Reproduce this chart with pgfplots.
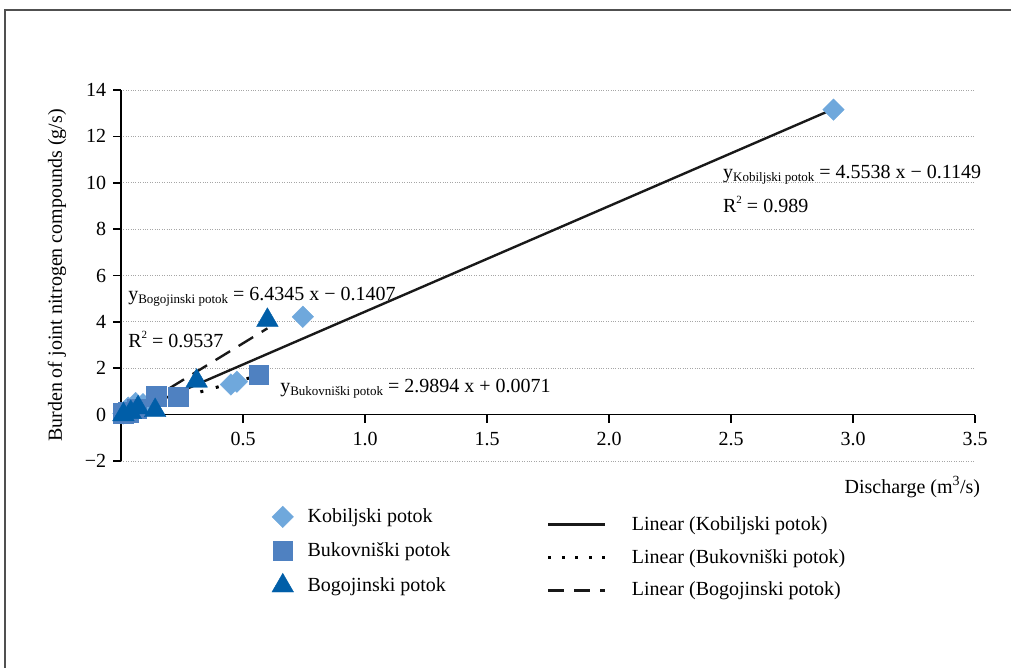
\documentclass[border=0pt]{standalone}
\usepackage{fontspec}
\setmainfont{Liberation Serif}
\usepackage{pgfplots}
\pgfplotsset{compat=1.18}

\definecolor{kobcol}{RGB}{111,168,220}
\definecolor{bukcol}{RGB}{79,129,193}
\definecolor{bogcol}{RGB}{0,94,168}
\definecolor{framecol}{RGB}{80,80,80}

% measured loads: discharge (m^3/s) vs. nitrogen load (g/s)
\pgfplotstableread{
x      y
2.92   13.15
0.745  4.22
0.45   1.30
0.475  1.42
0.09   0.45
0.06   0.50
0.03   0.30
0.01   0.05
}\kobiljski
\pgfplotstableread{
x      y
0.565  1.72
0.235  0.78
0.145  0.80
0.065  0.25
0.03   0.10
0.01   0.05
}\bukovniski
\pgfplotstableread{
x      y
0.60   4.07
0.31   1.45
0.14   0.18
0.07   0.30
0.04   0.10
0.01   0.00
}\bogojinski

\newcommand{\sub}[1]{\raisebox{-0.35ex}{\fontsize{13}{14}\selectfont #1}}
\newcommand{\sqr}{\raisebox{0.9ex}{\fontsize{11}{12}\selectfont 2}}

\begin{document}
\fontsize{20}{23}\selectfont
\begin{tikzpicture}[x=1pt,y=1pt]
\useasboundingbox (0,0) rectangle (1011,667);
\begin{scope}
  \clip (0,0) rectangle (1011,667);
  \draw[framecol, line width=2pt] (5,657) rectangle (1040,-30);
\end{scope}

\begin{axis}[
  at={(121pt,206pt)}, anchor=south west,
  scale only axis, width=854pt, height=371pt,
  xmin=0, xmax=3.5, ymin=-2, ymax=14,
  axis x line=middle, axis y line=left,
  axis line style={line width=1.6pt, -},
  xtick={0.5,1,1.5,2,2.5,3,3.5},
  xticklabels={0.5,1.0,1.5,2.0,2.5,3.0,3.5},
  ytick={-2,0,2,4,6,8,10,12,14},
  yticklabels={−2,0,2,4,6,8,10,12,14},
  tick align=outside, major tick length=8pt,
  tick style={line width=1.6pt, black},
  ymajorgrids,
  grid style={dotted, black!35, line width=0.9pt},
  ticklabel style={font=\fontsize{20}{23}\selectfont},
  xticklabel style={yshift=-3pt},
  xlabel={Discharge (m\textsuperscript{3}/s)},
  xlabel style={at={(axis description cs:1.014,-0.07)}, anchor=east},
  ylabel={Burden of joint nitrogen compounds (g/s)},
  ylabel style={at={(axis description cs:-0.075,0.5)}, anchor=center},
  clip=false,
  legend style={at={(axis description cs:0.173,-0.114)}, anchor=north west,
    draw=none, fill=none, row sep=11pt,
    nodes={inner sep=3pt},
    /tikz/every odd column/.append style={column sep=11pt}},
  legend cell align=left,
]
\addplot[only marks, mark=square*, mark size=7.6pt, mark options={rotate=45}, color=kobcol] table {\kobiljski};
\addlegendentry{Kobiljski potok}
\addplot[only marks, mark=square*, mark size=9.8pt, color=bukcol] table {\bukovniski};
\addlegendentry{Bukovniški potok}
\addplot[only marks, mark=triangle*, mark size=12.5pt, color=bogcol] table {\bogojinski};
\addlegendentry{Bogojinski potok}

% fitted trend lines
\addplot[black!90, line width=2.4pt, forget plot] coordinates {(0.01,-0.0694) (2.92,13.1822)};
\addplot[black, line width=3pt, dash pattern=on 3pt off 13pt, forget plot] coordinates {(0.01,0.0370) (0.565,1.6961)};
\addplot[black!90, line width=2.4pt, dash pattern=on 17pt off 10pt, forget plot] coordinates {(0.01,-0.0764) (0.60,3.7200)};

\node[anchor=base west, inner sep=0] at (axis cs:2.467,10.2)
  {y\sub{Kobiljski potok} = 4.5538 x − 0.1149};
\node[anchor=base west, inner sep=0] at (axis cs:2.467,8.73) {R\sqr\ = 0.989};
\node[anchor=base west, inner sep=0] at (axis cs:0.029,4.94)
  {y\sub{Bogojinski potok} = 6.4345 x − 0.1407};
\node[anchor=base west, inner sep=0] at (axis cs:0.029,2.91) {R\sqr\ = 0.9537};
\node[anchor=base west, inner sep=0] at (axis cs:0.652,0.97)
  {y\sub{Bukovniški potok} = 2.9894 x + 0.0071};
\end{axis}

% legend for the trend lines
\begin{axis}[
  at={(121pt,206pt)}, anchor=south west,
  scale only axis, width=854pt, height=371pt,
  xmin=0, xmax=3.5, ymin=-2, ymax=14,
  hide axis,
  legend style={at={(axis description cs:0.495,-0.135)}, anchor=north west,
    draw=none, fill=none, row sep=10pt, nodes={inner sep=3pt},
    /tikz/every odd column/.append style={column sep=22pt}},
  legend cell align=left,
  legend image code/.code={\draw[#1] (0pt,0pt) -- (57pt,0pt);},
]
\addlegendimage{black!90, line width=2.8pt}
\addlegendentry{Linear (Kobiljski potok)}
\addlegendimage{black, line width=3pt, dash pattern=on 3pt off 10.5pt}
\addlegendentry{Linear (Bukovniški potok)}
\addlegendimage{black!90, line width=2.8pt, dash pattern=on 16pt off 10pt}
\addlegendentry{Linear (Bogojinski potok)}
\end{axis}
\end{tikzpicture}
\end{document}
